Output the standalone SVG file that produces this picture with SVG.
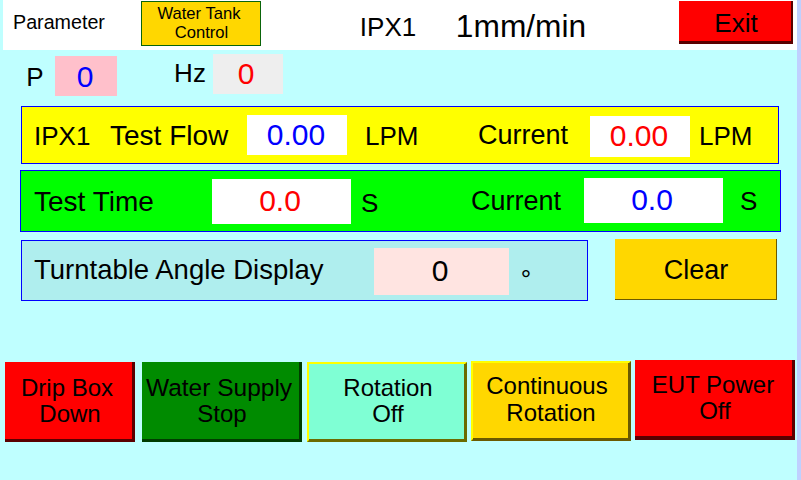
<svg xmlns="http://www.w3.org/2000/svg" width="801" height="480" viewBox="0 0 801 480">
<style>
text{font-family:"Liberation Sans",Arial,sans-serif;fill:#000;text-anchor:middle}
.s{text-anchor:start}
.b{fill:#0000ff}.r{fill:#ff0000}
.p{stroke:#0000ff;stroke-width:1}
.f16{font-size:16.600px}.f18{font-size:19.700px}.f24{font-size:24px}.f26{font-size:26px}.f27{font-size:27px}.f28{font-size:28px}.f30{font-size:30px}.f32{font-size:31.700px}
</style>
<rect width="801" height="480" fill="#bfffff"/>
<rect x="797" y="0" width="4" height="480" fill="#bfd0ff"/>
<rect x="3" y="0" width="794" height="50" fill="#fff"/>
<rect x="0" y="0" width="3" height="50" fill="#bfffff"/>
<g id="parameter"><text x="13" y="29" class="s f18">Parameter</text></g>
<g id="water-tank"><rect x="141.500" y="1.500" width="119" height="44" fill="#ffd700" stroke="#0a640a"/>
<text x="199" y="19" class="f16">Water Tank</text><text x="201.500" y="38" class="f16">Control</text></g>
<g id="title"><text x="388" y="36" class="f26">IPX1</text><text x="521" y="37" class="f32">1mm/min</text></g>
<g id="exit"><rect x="679" y="1" width="114" height="43" fill="#5a0000"/><path d="M679 1H791V41H679Z" fill="#ff0000"/>
<text x="736" y="32" class="f26">Exit</text></g>
<g id="p"><text x="35" y="86" class="f26">P</text><rect x="55" y="56" width="62" height="40" fill="#ffc0cb"/><text x="85" y="87" class="f30 b">0</text></g>
<g id="hz"><text x="190" y="82" class="f26">Hz</text><rect x="213" y="54" width="70" height="40" fill="#eeeeee"/><text x="246" y="84" class="f30 r">0</text></g>
<g id="flow"><rect x="21.500" y="106.500" width="757" height="57" fill="#ffff00" class="p"/>
<text x="34" y="145" class="s f26">IPX1</text><text x="110" y="145" class="s f28">Test Flow</text>
<rect x="247" y="115" width="100" height="40" fill="#fff"/><text x="296" y="145" class="f30 b">0.00</text>
<text x="365" y="145" class="s f26">LPM</text><text x="478" y="144" class="s f27">Current</text>
<rect x="590" y="116" width="100" height="41" fill="#fff"/><text x="639" y="146" class="f30 r">0.00</text>
<text x="699" y="145" class="s f26">LPM</text></g>
<g id="time"><rect x="20.500" y="170.500" width="760" height="61" fill="#00ff00" class="p"/>
<text x="34" y="211" class="s f28">Test Time</text>
<rect x="212" y="179" width="139" height="45" fill="#fff"/><text x="280" y="211" class="f30 r">0.0</text>
<text x="361" y="212" class="s f26">S</text><text x="471" y="210" class="s f27">Current</text>
<rect x="584" y="178" width="139" height="45" fill="#fff"/><text x="652" y="210" class="f30 b">0.0</text>
<text x="740" y="210" class="s f26">S</text></g>
<g id="angle"><rect x="21.500" y="240.500" width="566" height="60" fill="#afeeee" class="p"/>
<text x="34" y="279" class="s f27" style="font-size:27.500px">Turntable Angle Display</text>
<rect x="374" y="248" width="135" height="47" fill="#ffe4e1"/><text x="440" y="281" class="f30">0</text>
<text x="526" y="288" class="f26">°</text></g>
<g id="clear"><rect x="615" y="239" width="162" height="61" fill="#6b5a00"/><rect x="615" y="239" width="161" height="60" fill="#ffd700"/>
<text x="696" y="279" class="f27">Clear</text></g>
<g id="drip"><rect x="5" y="362" width="130" height="80" fill="#5a0000"/><rect x="5" y="362" width="127" height="77" fill="#ff0000"/>
<text x="67" y="396" class="f24">Drip Box</text><text x="70" y="422" class="f24">Down</text></g>
<g id="supply"><rect x="142" y="362" width="160" height="80" fill="#003c00"/><rect x="142" y="362" width="157" height="77" fill="#008b00"/>
<text x="219" y="396" class="f24" style="font-size:24.500px">Water Supply</text><text x="222" y="422" class="f24">Stop</text></g>
<g id="rotation"><rect x="307" y="362" width="160" height="80" fill="#6b6b00"/><path d="M307 362H467L465 364H309V440L307 442Z" fill="#ffff00"/><rect x="309" y="364" width="155" height="75" fill="#7fffd4"/>
<text x="388" y="396" class="f24">Rotation</text><text x="388" y="422" class="f24">Off</text></g>
<g id="continuous"><rect x="471" y="361" width="160" height="80" fill="#6b5a00"/><path d="M471 361H631L629 363H473V439L471 441Z" fill="#ffff00"/><rect x="473" y="363" width="155" height="75" fill="#ffd700"/>
<text x="547" y="394" class="f24">Continuous</text><text x="551" y="421" class="f24">Rotation</text></g>
<g id="eut"><rect x="635" y="360" width="160" height="80" fill="#5a0000"/><rect x="635" y="360" width="157" height="76" fill="#ff0000"/>
<text x="713" y="393" class="f24">EUT Power</text><text x="715" y="419" class="f24">Off</text></g>
</svg>
